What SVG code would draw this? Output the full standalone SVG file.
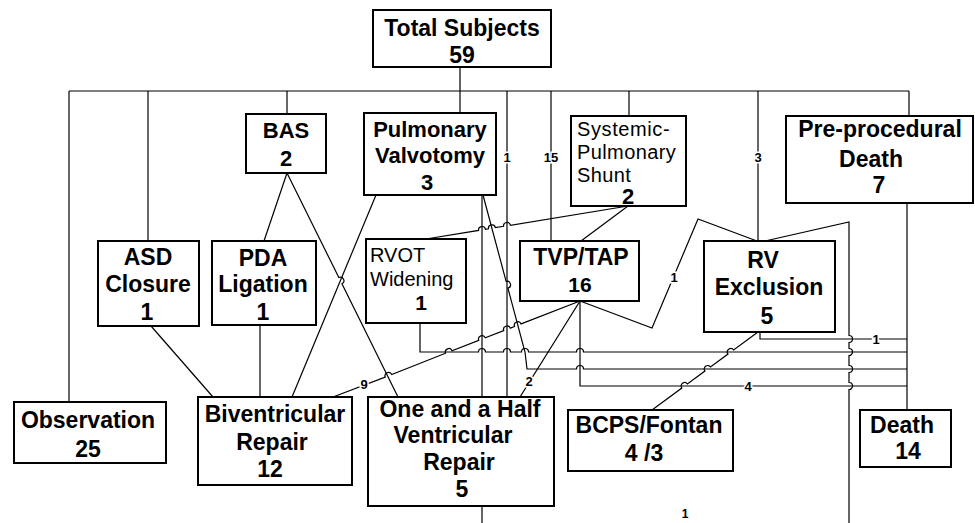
<svg xmlns="http://www.w3.org/2000/svg" width="975" height="523" viewBox="0 0 975 523">
<style>
.box{fill:#fff;stroke:#000;stroke-width:2}
.t{font-family:"Liberation Sans",Arial,sans-serif;font-weight:bold;font-size:23px;text-anchor:middle;fill:#000}
.r{font-family:"Liberation Sans",Arial,sans-serif;font-size:20px;fill:#000}
.c path{fill:none;stroke:#000;stroke-width:1.2}
.lb{font-family:"Liberation Sans",Arial,sans-serif;font-size:13px;font-weight:bold;text-anchor:middle;fill:#000;stroke:#fff;stroke-width:3;paint-order:stroke}
</style>
<rect width="975" height="523" fill="#fff"/>
<g class="c" id="connectors">
<path d="M460,67 V91 M69,91 H909"/>
<path d="M69,91 V402"/>
<path d="M148,91 V241"/>
<path d="M287,91 V114"/>
<path d="M460,91 V113"/>
<path d="M507,91 V397"/>
<path d="M551,91 V241"/>
<path d="M629,91 V116"/>
<path d="M758,91 V241"/>
<path d="M909,91 V116"/>
<path d="M907,203 V410"/>
<path d="M287,173 L264,241"/>
<path d="M287,173 L338.85,277.56 A3.5,3.5 0 0 1 341.95,283.84 L398,397"/>
<path d="M151,326 L213,397"/>
<path d="M260,325 V397"/>
<path d="M376,195 L292,397"/>
<path d="M482,195 V397"/>
<path d="M483,195 L506.1,281.3 A3.5,3.5 0 0 1 507.9,288.1 L525,352 L527,369 H576.5 A3.5,3.5 0 0 1 583.5,369 H907"/>
<path d="M420,323 V352 H478.5 A3.5,3.5 0 0 1 485.5,352 H503.5 A3.5,3.5 0 0 1 510.5,352 H521.5 A3.5,3.5 0 0 1 528.5,352 H576.5 A3.5,3.5 0 0 1 583.5,352 H907"/>
<path d="M333,397 L385.24,377.07 A3.5,3.5 0 0 1 391.76,374.53 L445.54,353.27 A3.5,3.5 0 0 1 452.06,350.73 L478.74,340.37 A3.5,3.5 0 0 1 485.26,337.83 L503.74,330.67 A3.5,3.5 0 0 1 510.26,328.13 L514.54,326.47 A3.5,3.5 0 0 1 521.06,323.93 L580,301"/>
<path d="M580,301 L520,397"/>
<path d="M580,301 V386 H907"/>
<path d="M580,301 L652,328 L698,219 L757,241"/>
<path d="M628,206 L581,241"/>
<path d="M426,239 L478.55,230.41 A3.5,3.5 0 0 1 485.45,229.29 L488.45,228.76 A3.5,3.5 0 0 1 495.35,227.64 L503.55,226.36 A3.5,3.5 0 0 1 510.45,225.24 L628,206"/>
<path d="M760,332 V339 H907"/>
<path d="M765,241 L849,222 V335.5 A3.5,3.5 0 0 1 849,342.5 V348.5 A3.5,3.5 0 0 1 849,355.5 V365.5 A3.5,3.5 0 0 1 849,372.5 V382.5 A3.5,3.5 0 0 1 849,389.5 V523"/>
<path d="M652,410 L681.8,388.1 A3.5,3.5 0 0 1 687.4,383.9 L704.9,371.1 A3.5,3.5 0 0 1 710.5,366.9 L728,354.1 A3.5,3.5 0 0 1 733.6,349.9 L758,332"/>
<path d="M482,506 V523"/>
<text class="lb" x="507" y="162">1</text>
<text class="lb" x="551" y="162">15</text>
<text class="lb" x="758" y="162">3</text>
<text class="lb" x="674" y="282">1</text>
<text class="lb" x="364" y="389">9</text>
<text class="lb" x="529" y="386">2</text>
<text class="lb" x="748" y="391">4</text>
<text class="lb" x="876" y="344">1</text>
<text class="lb" x="685" y="518" style="font-size:12px">1</text>
</g>
<g id="total"><rect class="box" x="373" y="10" width="178" height="57"/><text class="t" x="462" y="36">Total Subjects</text><text class="t" x="462" y="63">59</text></g>
<g id="bas"><rect class="box" x="246" y="114" width="80" height="59"/><text class="t" x="286" y="138" style="font-size:22px">BAS</text><text class="t" x="286" y="166" style="font-size:22px">2</text></g>
<g id="pv"><rect class="box" x="364" y="113" width="132" height="82"/><text class="t" x="430" y="137" style="font-size:22px">Pulmonary</text><text class="t" x="430" y="163" style="font-size:22px">Valvotomy</text><text class="t" x="427" y="190" style="font-size:22px">3</text></g>
<g id="sps"><rect class="box" x="571" y="116" width="115" height="90"/><text class="r" x="577" y="136" letter-spacing="0.6">Systemic-</text><text class="r" x="577" y="159" letter-spacing="0.4">Pulmonary</text><text class="r" x="577" y="182" letter-spacing="0.4">Shunt</text><text class="t" x="628" y="204" style="font-size:22px">2</text></g>
<g id="ppd"><rect class="box" x="786" y="116" width="187" height="87"/><text class="t" x="880" y="137">Pre-procedural</text><text class="t" x="871" y="167">Death</text><text class="t" x="879" y="193">7</text></g>
<g id="asd"><rect class="box" x="98" y="241" width="101" height="85"/><text class="t" x="148" y="265">ASD</text><text class="t" x="148" y="292">Closure</text><text class="t" x="147" y="320">1</text></g>
<g id="pda"><rect class="box" x="212" y="241" width="104" height="84"/><text class="t" x="263" y="266">PDA</text><text class="t" x="263" y="292">Ligation</text><text class="t" x="263" y="320">1</text></g>
<g id="rvot"><rect class="box" x="366" y="239" width="100" height="84"/><text class="r" x="370" y="262">RVOT</text><text class="r" x="370" y="286">Widening</text><text class="t" x="421" y="310" style="font-size:21px">1</text></g>
<g id="tvp"><rect class="box" x="520" y="241" width="119" height="60"/><text class="t" x="581" y="265">TVP/TAP</text><text class="t" x="580" y="292" style="font-size:21px">16</text></g>
<g id="rvex"><rect class="box" x="704" y="241" width="131" height="91"/><text class="t" x="763" y="268">RV</text><text class="t" x="769" y="295">Exclusion</text><text class="t" x="767" y="324">5</text></g>
<g id="obs"><rect class="box" x="14" y="402" width="152" height="61"/><text class="t" x="88" y="428">Observation</text><text class="t" x="88" y="457">25</text></g>
<g id="biv"><rect class="box" x="198" y="397" width="154" height="88"/><text class="t" x="275" y="422">Biventricular</text><text class="t" x="272" y="450">Repair</text><text class="t" x="270" y="477">12</text></g>
<g id="oneandhalf"><rect class="box" x="368" y="397" width="186" height="109"/><text class="t" x="460" y="417">One and a Half</text><text class="t" x="453" y="443">Ventricular</text><text class="t" x="459" y="470">Repair</text><text class="t" x="462" y="497">5</text></g>
<g id="bcps"><rect class="box" x="568" y="410" width="165" height="61"/><text class="t" x="649" y="433">BCPS/Fontan</text><text class="t" x="644" y="461">4 /3</text></g>
<g id="death"><rect class="box" x="860" y="410" width="91" height="57"/><text class="t" x="902" y="433">Death</text><text class="t" x="908" y="459">14</text></g>
</svg>
